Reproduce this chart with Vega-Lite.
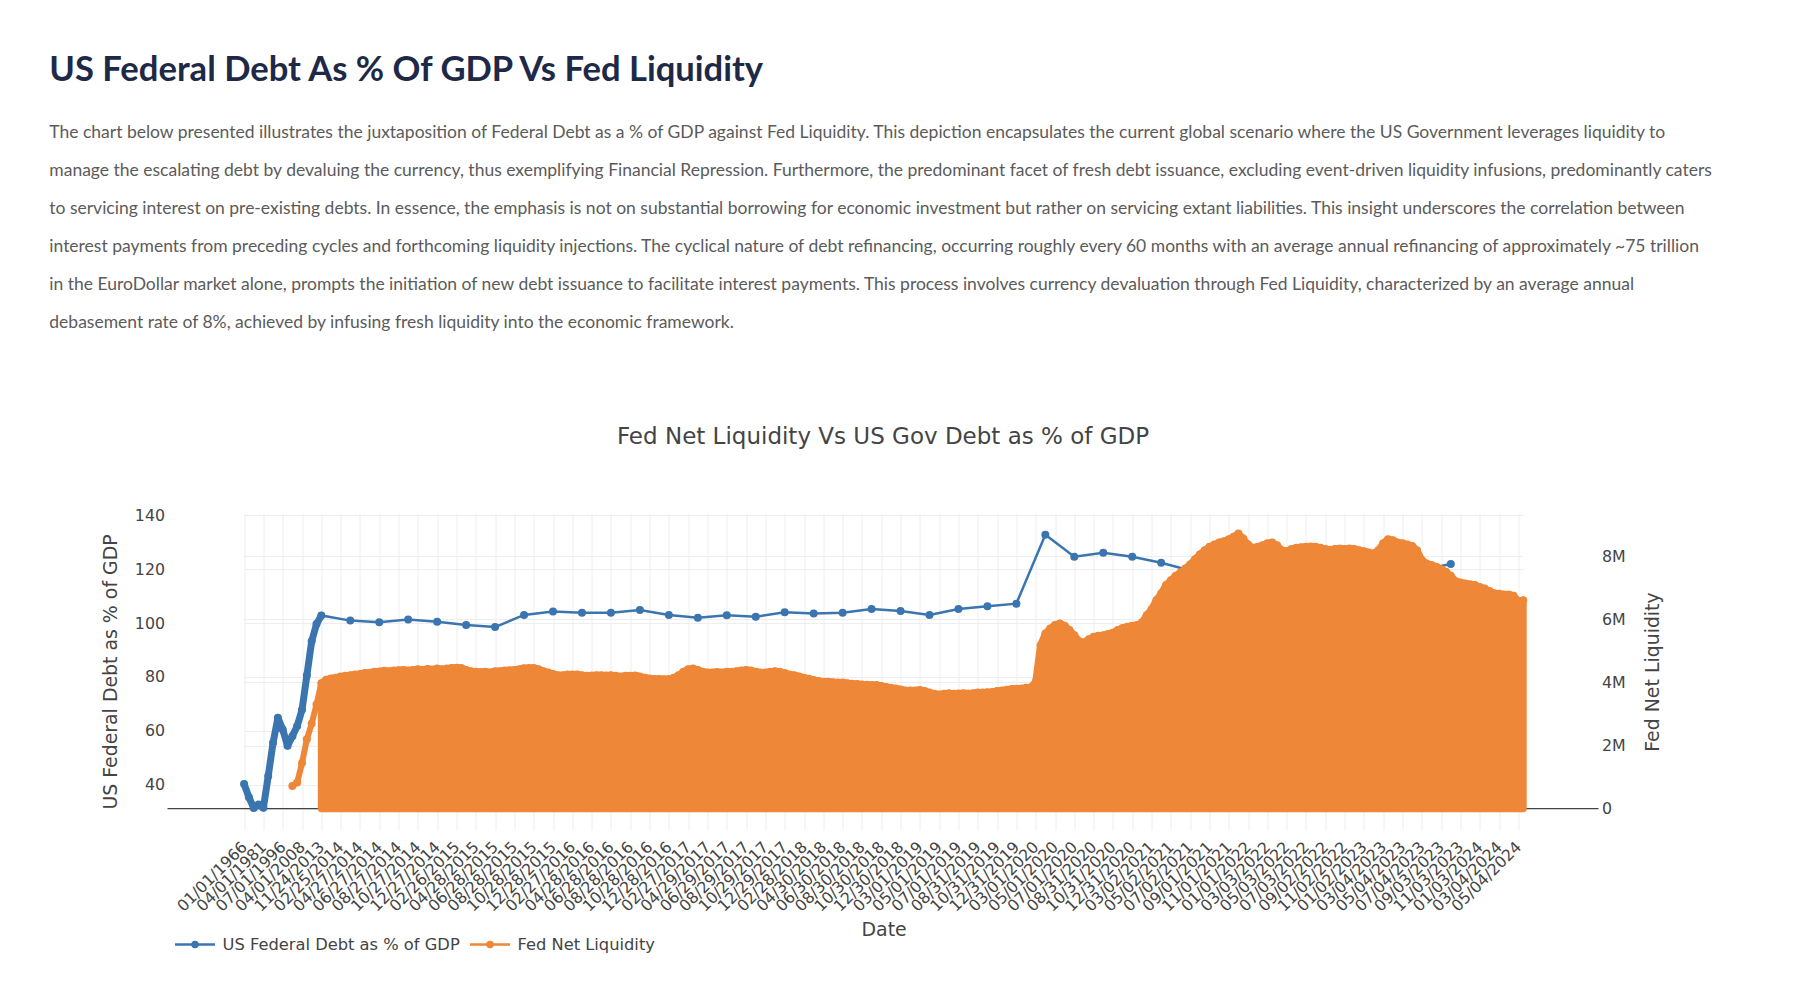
{
  "$schema": "https://vega.github.io/schema/vega-lite/v6.json",
  "background": "white",
  "padding": {"left": 48.5, "top": 52, "right": 5, "bottom": 5},
  "title": {
    "text": "US Federal Debt As % Of GDP Vs Fed Liquidity",
    "subtitle": [
      "The chart below presented illustrates the juxtaposition of Federal Debt as a % of GDP against Fed Liquidity. This depiction encapsulates the current global scenario where the US Government leverages liquidity to",
      "manage the escalating debt by devaluing the currency, thus exemplifying Financial Repression. Furthermore, the predominant facet of fresh debt issuance, excluding event-driven liquidity infusions, predominantly caters",
      "to servicing interest on pre-existing debts. In essence, the emphasis is not on substantial borrowing for economic investment but rather on servicing extant liabilities. This insight underscores the correlation between",
      "interest payments from preceding cycles and forthcoming liquidity injections. The cyclical nature of debt refinancing, occurring roughly every 60 months with an average annual refinancing of approximately ~75 trillion",
      "in the EuroDollar market alone, prompts the initiation of new debt issuance to facilitate interest payments. This process involves currency devaluation through Fed Liquidity, characterized by an average annual",
      "debasement rate of 8%, achieved by infusing fresh liquidity into the economic framework."
    ],
    "anchor": "start",
    "frame": "group",
    "font": "Lato",
    "fontSize": 34.6,
    "fontWeight": "bold",
    "color": "#1e2947",
    "subtitleFont": "Lato",
    "subtitleFontSize": 17.5,
    "subtitleColor": "#5b5b5b",
    "subtitleLineHeight": 38,
    "subtitlePadding": 36,
    "offset": 93.4,
    "dx": -118.2
  },
  "vconcat": [
    {
      "width": 1431,
      "height": 317,
      "title": {
        "text": "Fed Net Liquidity Vs US Gov Debt as % of GDP",
        "font": "DejaVu Sans",
        "fontSize": 23,
        "fontWeight": "normal",
        "color": "#444444",
        "anchor": "middle",
        "offset": 58
      },
      "data": {
        "values": [
          {"d": "1966-01-01", "debt": 40.2},
          {"d": "1969-10-01", "debt": 35.3},
          {"d": "1973-07-01", "debt": 31.3},
          {"d": "1977-07-01", "debt": 32.6},
          {"d": "1981-04-01", "debt": 31.4},
          {"d": "1985-01-01", "debt": 43.2},
          {"d": "1988-10-01", "debt": 55.5},
          {"d": "1992-10-01", "debt": 64.8},
          {"d": "1996-07-01", "debt": 60.5},
          {"d": "1999-10-01", "debt": 54.4},
          {"d": "2002-07-01", "debt": 58.0, "liq": 720000},
          {"d": "2005-07-01", "debt": 61.8, "liq": 830000},
          {"d": "2008-04-01", "debt": 67.8, "liq": 1450000},
          {"d": "2010-01-01", "debt": 80.5, "liq": 2200000},
          {"d": "2011-01-01", "debt": 93.2, "liq": 2700000},
          {"d": "2012-01-01", "debt": 99.6, "liq": 3300000},
          {"d": "2013-11-24", "debt": 102.8, "liq": 3980000},
          {"d": "2013-12-17", "liq": 4090000},
          {"d": "2014-01-09", "liq": 4130000},
          {"d": "2014-02-02", "liq": 4150000},
          {"d": "2014-02-25", "liq": 4190000},
          {"d": "2014-03-12", "liq": 4210000},
          {"d": "2014-03-27", "liq": 4230000, "debt": 100.9},
          {"d": "2014-04-12", "liq": 4250000},
          {"d": "2014-04-27", "liq": 4270000},
          {"d": "2014-05-12", "liq": 4300000},
          {"d": "2014-05-27", "liq": 4310000},
          {"d": "2014-06-12", "liq": 4340000},
          {"d": "2014-06-27", "liq": 4350000, "debt": 100.3},
          {"d": "2014-07-12", "liq": 4370000},
          {"d": "2014-07-27", "liq": 4360000},
          {"d": "2014-08-12", "liq": 4380000},
          {"d": "2014-08-27", "liq": 4390000},
          {"d": "2014-09-11", "liq": 4400000},
          {"d": "2014-09-26", "liq": 4380000, "debt": 101.3},
          {"d": "2014-10-12", "liq": 4400000},
          {"d": "2014-10-27", "liq": 4420000},
          {"d": "2014-11-11", "liq": 4400000},
          {"d": "2014-11-26", "liq": 4430000},
          {"d": "2014-12-12", "liq": 4410000},
          {"d": "2014-12-27", "liq": 4440000, "debt": 100.5},
          {"d": "2015-01-11", "liq": 4420000},
          {"d": "2015-01-26", "liq": 4440000},
          {"d": "2015-02-11", "liq": 4460000},
          {"d": "2015-02-26", "liq": 4470000},
          {"d": "2015-03-13", "liq": 4460000},
          {"d": "2015-03-28", "liq": 4400000, "debt": 99.3},
          {"d": "2015-04-13", "liq": 4360000},
          {"d": "2015-04-28", "liq": 4340000},
          {"d": "2015-05-13", "liq": 4330000},
          {"d": "2015-05-28", "liq": 4340000},
          {"d": "2015-06-13", "liq": 4320000},
          {"d": "2015-06-28", "liq": 4360000, "debt": 98.5},
          {"d": "2015-07-13", "liq": 4360000},
          {"d": "2015-07-28", "liq": 4380000},
          {"d": "2015-08-13", "liq": 4390000},
          {"d": "2015-08-28", "liq": 4400000},
          {"d": "2015-09-12", "liq": 4420000},
          {"d": "2015-09-27", "liq": 4450000, "debt": 103.0},
          {"d": "2015-10-13", "liq": 4460000},
          {"d": "2015-10-28", "liq": 4460000},
          {"d": "2015-11-12", "liq": 4420000},
          {"d": "2015-11-27", "liq": 4360000},
          {"d": "2015-12-13", "liq": 4320000},
          {"d": "2015-12-28", "liq": 4270000, "debt": 104.3},
          {"d": "2016-01-12", "liq": 4230000},
          {"d": "2016-01-27", "liq": 4230000},
          {"d": "2016-02-12", "liq": 4250000},
          {"d": "2016-02-27", "liq": 4250000},
          {"d": "2016-03-13", "liq": 4250000},
          {"d": "2016-03-28", "liq": 4230000, "debt": 103.8},
          {"d": "2016-04-13", "liq": 4210000},
          {"d": "2016-04-28", "liq": 4220000},
          {"d": "2016-05-13", "liq": 4230000},
          {"d": "2016-05-28", "liq": 4230000},
          {"d": "2016-06-13", "liq": 4220000},
          {"d": "2016-06-28", "liq": 4230000, "debt": 103.8},
          {"d": "2016-07-13", "liq": 4210000},
          {"d": "2016-07-28", "liq": 4190000},
          {"d": "2016-08-13", "liq": 4210000},
          {"d": "2016-08-28", "liq": 4210000},
          {"d": "2016-09-12", "liq": 4220000},
          {"d": "2016-09-27", "liq": 4190000, "debt": 104.8},
          {"d": "2016-10-13", "liq": 4150000},
          {"d": "2016-10-28", "liq": 4130000},
          {"d": "2016-11-12", "liq": 4110000},
          {"d": "2016-11-27", "liq": 4110000},
          {"d": "2016-12-13", "liq": 4100000},
          {"d": "2016-12-28", "liq": 4110000, "debt": 103.0},
          {"d": "2017-01-12", "liq": 4150000},
          {"d": "2017-01-27", "liq": 4230000},
          {"d": "2017-02-12", "liq": 4340000},
          {"d": "2017-02-27", "liq": 4420000},
          {"d": "2017-03-14", "liq": 4440000},
          {"d": "2017-03-29", "liq": 4400000, "debt": 102.0},
          {"d": "2017-04-14", "liq": 4340000},
          {"d": "2017-04-29", "liq": 4320000},
          {"d": "2017-05-14", "liq": 4320000},
          {"d": "2017-05-29", "liq": 4330000},
          {"d": "2017-06-14", "liq": 4320000},
          {"d": "2017-06-29", "liq": 4340000, "debt": 102.9},
          {"d": "2017-07-14", "liq": 4340000},
          {"d": "2017-07-29", "liq": 4360000},
          {"d": "2017-08-14", "liq": 4380000},
          {"d": "2017-08-29", "liq": 4400000},
          {"d": "2017-09-13", "liq": 4380000},
          {"d": "2017-09-28", "liq": 4340000, "debt": 102.3},
          {"d": "2017-10-14", "liq": 4320000},
          {"d": "2017-10-29", "liq": 4320000},
          {"d": "2017-11-13", "liq": 4340000},
          {"d": "2017-11-28", "liq": 4360000},
          {"d": "2017-12-14", "liq": 4340000},
          {"d": "2017-12-29", "liq": 4300000, "debt": 104.0},
          {"d": "2018-01-13", "liq": 4250000},
          {"d": "2018-01-28", "liq": 4230000},
          {"d": "2018-02-13", "liq": 4190000},
          {"d": "2018-02-28", "liq": 4150000},
          {"d": "2018-03-15", "liq": 4120000},
          {"d": "2018-03-30", "liq": 4080000, "debt": 103.5},
          {"d": "2018-04-15", "liq": 4050000},
          {"d": "2018-04-30", "liq": 4020000},
          {"d": "2018-05-15", "liq": 4020000},
          {"d": "2018-05-30", "liq": 4010000},
          {"d": "2018-06-15", "liq": 4000000},
          {"d": "2018-06-30", "liq": 4000000, "debt": 103.8},
          {"d": "2018-07-15", "liq": 3980000},
          {"d": "2018-07-30", "liq": 3960000},
          {"d": "2018-08-15", "liq": 3950000},
          {"d": "2018-08-30", "liq": 3940000},
          {"d": "2018-09-14", "liq": 3930000},
          {"d": "2018-09-29", "liq": 3920000, "debt": 105.2},
          {"d": "2018-10-15", "liq": 3920000},
          {"d": "2018-10-30", "liq": 3890000},
          {"d": "2018-11-14", "liq": 3860000},
          {"d": "2018-11-29", "liq": 3830000},
          {"d": "2018-12-15", "liq": 3810000},
          {"d": "2018-12-30", "liq": 3780000, "debt": 104.5},
          {"d": "2019-01-14", "liq": 3750000},
          {"d": "2019-01-29", "liq": 3750000},
          {"d": "2019-02-14", "liq": 3750000},
          {"d": "2019-03-01", "liq": 3760000},
          {"d": "2019-03-16", "liq": 3730000},
          {"d": "2019-03-31", "liq": 3680000, "debt": 103.0},
          {"d": "2019-04-16", "liq": 3640000},
          {"d": "2019-05-01", "liq": 3620000},
          {"d": "2019-05-16", "liq": 3640000},
          {"d": "2019-05-31", "liq": 3660000},
          {"d": "2019-06-16", "liq": 3640000},
          {"d": "2019-07-01", "liq": 3650000, "debt": 105.2},
          {"d": "2019-07-16", "liq": 3660000},
          {"d": "2019-07-31", "liq": 3650000},
          {"d": "2019-08-16", "liq": 3660000},
          {"d": "2019-08-31", "liq": 3680000},
          {"d": "2019-09-15", "liq": 3680000},
          {"d": "2019-09-30", "liq": 3690000, "debt": 106.2},
          {"d": "2019-10-16", "liq": 3700000},
          {"d": "2019-10-31", "liq": 3730000},
          {"d": "2019-11-15", "liq": 3750000},
          {"d": "2019-11-30", "liq": 3770000},
          {"d": "2019-12-16", "liq": 3790000},
          {"d": "2019-12-31", "liq": 3800000, "debt": 107.2},
          {"d": "2020-01-15", "liq": 3810000},
          {"d": "2020-01-30", "liq": 3830000},
          {"d": "2020-02-15", "liq": 3850000},
          {"d": "2020-03-01", "liq": 4020000},
          {"d": "2020-03-16", "liq": 5180000},
          {"d": "2020-03-31", "liq": 5550000, "debt": 132.8},
          {"d": "2020-04-16", "liq": 5710000},
          {"d": "2020-05-01", "liq": 5820000},
          {"d": "2020-05-16", "liq": 5870000},
          {"d": "2020-05-31", "liq": 5800000},
          {"d": "2020-06-16", "liq": 5660000},
          {"d": "2020-07-01", "liq": 5500000, "debt": 124.6},
          {"d": "2020-07-16", "liq": 5310000},
          {"d": "2020-07-31", "liq": 5270000},
          {"d": "2020-08-16", "liq": 5370000},
          {"d": "2020-08-31", "liq": 5450000},
          {"d": "2020-09-15", "liq": 5480000},
          {"d": "2020-09-30", "liq": 5500000, "debt": 126.1},
          {"d": "2020-10-16", "liq": 5540000},
          {"d": "2020-10-31", "liq": 5580000},
          {"d": "2020-11-15", "liq": 5660000},
          {"d": "2020-11-30", "liq": 5730000},
          {"d": "2020-12-16", "liq": 5770000},
          {"d": "2020-12-31", "liq": 5800000, "debt": 124.6},
          {"d": "2021-01-15", "liq": 5820000},
          {"d": "2021-01-30", "liq": 5900000},
          {"d": "2021-02-15", "liq": 6130000},
          {"d": "2021-03-02", "liq": 6320000},
          {"d": "2021-03-17", "liq": 6610000},
          {"d": "2021-04-01", "liq": 6820000, "debt": 122.4},
          {"d": "2021-04-17", "liq": 7090000},
          {"d": "2021-05-02", "liq": 7240000},
          {"d": "2021-05-17", "liq": 7380000},
          {"d": "2021-06-01", "liq": 7490000},
          {"d": "2021-06-17", "liq": 7610000},
          {"d": "2021-07-02", "liq": 7740000, "debt": 119.5},
          {"d": "2021-07-17", "liq": 7910000},
          {"d": "2021-08-01", "liq": 8060000},
          {"d": "2021-08-17", "liq": 8190000},
          {"d": "2021-09-01", "liq": 8300000},
          {"d": "2021-09-16", "liq": 8370000},
          {"d": "2021-10-01", "liq": 8440000, "debt": 121.4},
          {"d": "2021-10-17", "liq": 8480000},
          {"d": "2021-11-01", "liq": 8540000},
          {"d": "2021-11-16", "liq": 8620000},
          {"d": "2021-12-01", "liq": 8720000},
          {"d": "2021-12-17", "liq": 8560000},
          {"d": "2022-01-01", "liq": 8370000, "debt": 120.2},
          {"d": "2022-01-16", "liq": 8270000},
          {"d": "2022-01-31", "liq": 8300000},
          {"d": "2022-02-16", "liq": 8350000},
          {"d": "2022-03-03", "liq": 8410000},
          {"d": "2022-03-18", "liq": 8440000},
          {"d": "2022-04-02", "liq": 8350000, "debt": 118.5},
          {"d": "2022-04-18", "liq": 8190000},
          {"d": "2022-05-03", "liq": 8160000},
          {"d": "2022-05-18", "liq": 8230000},
          {"d": "2022-06-02", "liq": 8270000},
          {"d": "2022-06-18", "liq": 8290000},
          {"d": "2022-07-03", "liq": 8300000, "debt": 117.6},
          {"d": "2022-07-18", "liq": 8310000},
          {"d": "2022-08-02", "liq": 8300000},
          {"d": "2022-08-18", "liq": 8270000},
          {"d": "2022-09-02", "liq": 8230000},
          {"d": "2022-09-17", "liq": 8210000},
          {"d": "2022-10-02", "liq": 8230000, "debt": 118.5},
          {"d": "2022-10-18", "liq": 8250000},
          {"d": "2022-11-02", "liq": 8230000},
          {"d": "2022-11-17", "liq": 8250000},
          {"d": "2022-12-02", "liq": 8230000},
          {"d": "2022-12-18", "liq": 8190000},
          {"d": "2023-01-02", "liq": 8160000, "debt": 118.8},
          {"d": "2023-01-17", "liq": 8120000},
          {"d": "2023-02-01", "liq": 8090000},
          {"d": "2023-02-17", "liq": 8190000},
          {"d": "2023-03-04", "liq": 8410000},
          {"d": "2023-03-19", "liq": 8540000},
          {"d": "2023-04-03", "liq": 8510000, "debt": 118.9},
          {"d": "2023-04-19", "liq": 8440000},
          {"d": "2023-05-04", "liq": 8410000},
          {"d": "2023-05-19", "liq": 8370000},
          {"d": "2023-06-03", "liq": 8330000},
          {"d": "2023-06-19", "liq": 8190000},
          {"d": "2023-07-04", "liq": 7880000, "debt": 119.7},
          {"d": "2023-07-19", "liq": 7770000},
          {"d": "2023-08-03", "liq": 7720000},
          {"d": "2023-08-19", "liq": 7670000},
          {"d": "2023-09-03", "liq": 7590000},
          {"d": "2023-09-18", "liq": 7510000},
          {"d": "2023-10-03", "liq": 7380000, "debt": 121.9},
          {"d": "2023-10-19", "liq": 7210000},
          {"d": "2023-11-03", "liq": 7170000},
          {"d": "2023-11-18", "liq": 7140000},
          {"d": "2023-12-03", "liq": 7110000},
          {"d": "2023-12-19", "liq": 7090000},
          {"d": "2024-01-03", "liq": 7030000},
          {"d": "2024-01-18", "liq": 6980000},
          {"d": "2024-02-02", "liq": 6900000},
          {"d": "2024-02-18", "liq": 6830000},
          {"d": "2024-03-04", "liq": 6810000},
          {"d": "2024-03-19", "liq": 6790000},
          {"d": "2024-04-03", "liq": 6790000},
          {"d": "2024-04-19", "liq": 6750000},
          {"d": "2024-05-04", "liq": 6580000},
          {"d": "2024-05-19", "liq": 6610000}
        ]
      },
      "layer": [
        {
          "data": {"values": [{"level": 0}]},
          "mark": {"type": "rule", "color": "#444444", "strokeWidth": 1.2},
          "encoding": {
            "y": {"field": "level", "type": "quantitative", "scale": {"domain": [-675000, 9372000], "nice": false, "zero": false}, "axis": null}
          }
        },
        {
          "transform": [{"filter": "isValid(datum.debt)"}],
          "encoding": {
            "x": {
              "field": "d", "type": "ordinal", "sort": "ascending",
              "scale": {"type": "point", "padding": 0, "range": [76.6, 1355.7]},
              "axis": {
                "values": ["1966-01-01","1981-04-01","1996-07-01","2008-04-01","2013-11-24","2014-02-25","2014-04-27","2014-06-27","2014-08-27","2014-10-27","2014-12-27","2015-02-26","2015-04-28","2015-06-28","2015-08-28","2015-10-28","2015-12-28","2016-02-27","2016-04-28","2016-06-28","2016-08-28","2016-10-28","2016-12-28","2017-02-27","2017-04-29","2017-06-29","2017-08-29","2017-10-29","2017-12-29","2018-02-28","2018-04-30","2018-06-30","2018-08-30","2018-10-30","2018-12-30","2019-03-01","2019-05-01","2019-07-01","2019-08-31","2019-10-31","2019-12-31","2020-03-01","2020-05-01","2020-07-01","2020-08-31","2020-10-31","2020-12-31","2021-03-02","2021-05-02","2021-07-02","2021-09-01","2021-11-01","2022-01-01","2022-03-03","2022-05-03","2022-07-03","2022-09-02","2022-11-02","2023-01-02","2023-03-04","2023-05-04","2023-07-04","2023-09-03","2023-11-03","2024-01-03","2024-03-04","2024-05-04"],
                "labelExpr": "substring(datum.value,5,7)+'/'+substring(datum.value,8,10)+'/'+substring(datum.value,0,4)",
                "labelAngle": -45, "labelAlign": "right", "labelBaseline": "middle", "labelPadding": 14,
                "labelFont": "DejaVu Sans", "labelFontSize": 15.8, "labelColor": "#444444", "labelOverlap": false,
                "grid": true, "gridColor": "#eeeeee", "gridWidth": 1, "domain": false, "ticks": false,
                "title": "Date", "titleFont": "DejaVu Sans", "titleFontSize": 18.9, "titleFontWeight": "normal", "titleColor": "#444444", "titlePadding": 7
              }
            },
            "y": {
              "field": "debt", "type": "quantitative",
              "scale": {"domain": [23.14, 140.86], "nice": false, "zero": false},
              "axis": {
                "orient": "left", "values": [40, 60, 80, 100, 120, 140],
                "grid": true, "gridColor": "#eeeeee", "domain": false, "ticks": false, "labelPadding": 3,
                "labelFont": "DejaVu Sans", "labelFontSize": 15.8, "labelColor": "#444444",
                "title": "US Federal Debt as % of GDP", "titleFont": "DejaVu Sans", "titleFontSize": 18.9, "titleFontWeight": "normal", "titleColor": "#444444", "titlePadding": 14
              }
            }
          },
          "layer": [
            {
              "transform": [{"filter": "datum.d <= '2013-11-24'"}],
              "mark": {"type": "line", "strokeWidth": 7, "strokeJoin": "round", "strokeCap": "round", "color": "#3b75af"}
            },
            {
              "mark": {"type": "line", "strokeWidth": 2.5},
              "encoding": {
                "color": {
                  "datum": "US Federal Debt as % of GDP", "type": "nominal",
                  "scale": {"domain": ["US Federal Debt as % of GDP", "Fed Net Liquidity"], "range": ["#3b75af", "#ee8737"]},
                  "legend": {
                    "orient": "none", "legendX": 6, "legendY": 410, "direction": "horizontal", "title": null,
                    "symbolType": "M-1,0L1,0M-0.125,0A0.125,0.125,0,1,1,0.125,0A0.125,0.125,0,1,1,-0.125,0M-0.0625,0A0.0625,0.0625,0,1,1,0.0625,0A0.0625,0.0625,0,1,1,-0.0625,0",
                    "symbolSize": 1600, "symbolStrokeWidth": 2.5, "labelLimit": 0,
                    "labelFont": "DejaVu Sans", "labelFontSize": 16.3, "labelColor": "#444444", "labelOffset": 6, "columnPadding": 4
                  }
                }
              }
            },
            {
              "mark": {"type": "point", "filled": true, "size": 64, "opacity": 1, "color": "#3b75af"}
            }
          ]
        },
        {
          "transform": [{"filter": "isValid(datum.liq)"}],
          "encoding": {
            "x": {
              "field": "d", "type": "ordinal", "sort": "ascending",
              "scale": {"type": "point", "padding": 0, "range": [76.6, 1355.7]}
            },
            "y": {
              "field": "liq", "type": "quantitative",
              "scale": {"domain": [-675000, 9372000], "nice": false, "zero": false},
              "axis": {
                "orient": "right", "values": [0, 2000000, 4000000, 6000000, 8000000],
                "labelExpr": "datum.value == 0 ? '0' : (datum.value / 1000000) + 'M'",
                "grid": true, "gridColor": "#eeeeee", "domain": false, "ticks": false, "labelPadding": 3,
                "labelFont": "DejaVu Sans", "labelFontSize": 15.8, "labelColor": "#444444",
                "title": "Fed Net Liquidity", "titleAngle": 270, "titleBaseline": "top", "titleFont": "DejaVu Sans", "titleFontSize": 18.9, "titleFontWeight": "normal", "titleColor": "#444444", "titlePadding": 18
              }
            }
          },
          "layer": [
            {
              "transform": [{"filter": "datum.d >= '2013-11-24'"}],
              "mark": {"type": "area", "color": "#ee8737", "stroke": "#ee8737", "strokeWidth": 7, "strokeJoin": "round", "strokeCap": "round", "opacity": 1}
            },
            {
              "transform": [{"filter": "datum.d <= '2013-11-24'"}],
              "mark": {"type": "line", "strokeWidth": 6, "strokeJoin": "round", "strokeCap": "round", "color": "#ee8737"}
            },
            {
              "mark": {"type": "line", "strokeWidth": 2.5},
              "encoding": {"color": {"datum": "Fed Net Liquidity", "type": "nominal"}}
            },
            {
              "mark": {"type": "point", "filled": true, "size": 64, "opacity": 1, "color": "#ee8737"}
            }
          ]
        }
      ],
      "resolve": {"scale": {"y": "independent"}}
    }
  ],
  "config": {
    "view": {"stroke": null},
    "font": "DejaVu Sans"
  }
}
